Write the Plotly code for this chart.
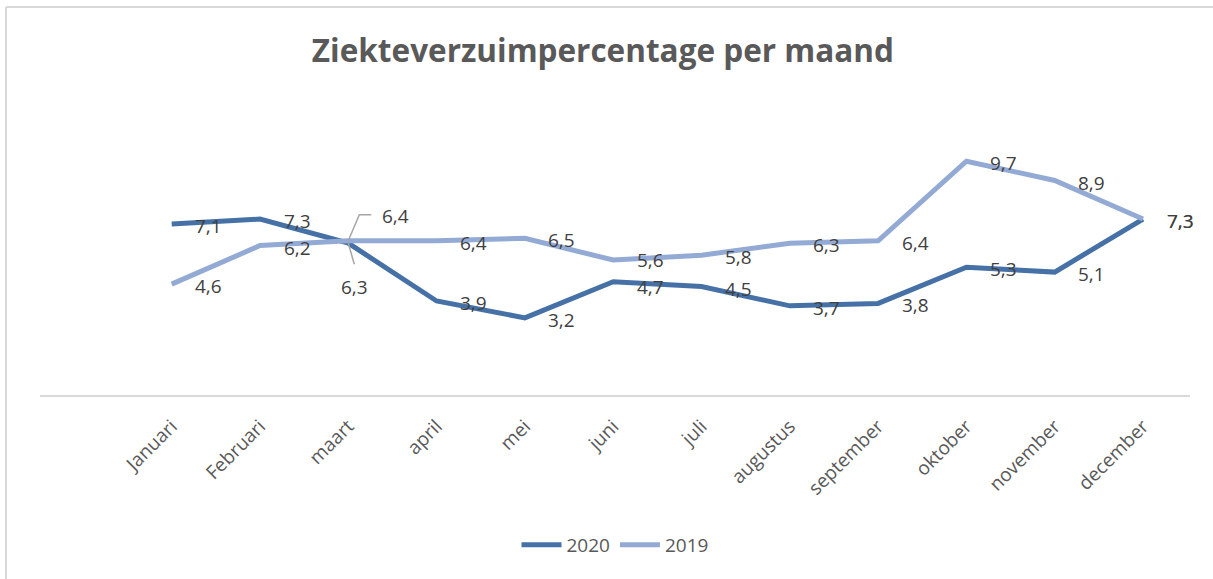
import plotly.graph_objects as go

months = ["Januari", "Februari", "maart", "april", "mei", "juni", "juli",
          "augustus", "september", "oktober", "november", "december"]
values_2020 = [7.1, 7.3, 6.3, 3.9, 3.2, 4.7, 4.5, 3.7, 3.8, 5.3, 5.1, 7.3]
values_2019 = [4.6, 6.2, 6.4, 6.4, 6.5, 5.6, 5.8, 6.3, 6.4, 9.7, 8.9, 7.3]

W, H = 1213, 579
C2020 = "#4671A6"
C2019 = "#93AAD5"
LABEL_C = "#404040"
AXIS_TXT = "#595959"
FONT = "Open Sans"

fig = go.Figure()
fig.add_trace(go.Scatter(x=list(range(len(months))), y=values_2020, name="2020",
                         mode="lines", line=dict(color=C2020, width=5)))
fig.add_trace(go.Scatter(x=list(range(len(months))), y=values_2019, name="2019",
                         mode="lines", line=dict(color=C2019, width=5)))

# data labels (default offset: right of point); special offsets for crossing in maart
default_off = (37, -2)
special = {("2019", 2): (47, 25), ("2020", 2): (6, -44),
           ("2019", 5): (37, 0), ("2020", 5): (37, -5)}
annotations = []
for name, vals in (("2020", values_2020), ("2019", values_2019)):
    for i, v in enumerate(vals):
        dx, dy = special.get((name, i), default_off)
        annotations.append(dict(x=i, y=v, xref="x", yref="y", showarrow=False,
                                text=f"{v:.1f}".replace(".", ","),
                                xshift=dx, yshift=dy,
                                font=dict(family=FONT, size=19, color=LABEL_C)))

# leader lines for maart labels (pixel offsets from the data point)
shapes = [
    dict(type="path", xref="x", yref="y", xsizemode="pixel", ysizemode="pixel",
         xanchor=2, yanchor=values_2019[2], path="M0,0 L11,26 L23,26",
         line=dict(color="#A6A6A6", width=1.5)),
    dict(type="path", xref="x", yref="y", xsizemode="pixel", ysizemode="pixel",
         xanchor=2, yanchor=values_2020[2], path="M0,0 L6,-21",
         line=dict(color="#A6A6A6", width=1.5)),
    # chart border (top and left)
    dict(type="line", xref="paper", yref="paper", x0=6 / W, x1=1, y0=1 - 7 / H, y1=1 - 7 / H,
         line=dict(color="#D9D9D9", width=2)),
    dict(type="line", xref="paper", yref="paper", x0=6 / W, x1=6 / W, y0=0, y1=1 - 7 / H,
         line=dict(color="#D9D9D9", width=2)),
]

x0_px, step = 171.7, 88.3
left_px, right_px = 40, 1190
y0_px, unit = 395, 24.1

fig.update_layout(
    width=W, height=H,
    margin=dict(l=0, r=0, t=0, b=0),
    paper_bgcolor="white", plot_bgcolor="white",
    title=dict(text="<b>Ziekteverzuimpercentage per maand</b>", x=0.497, xanchor="center",
               y=1 - 51 / H, yanchor="middle",
               font=dict(family=FONT, size=31.5, color="#595959")),
    xaxis=dict(
        domain=[left_px / W, right_px / W],
        range=[(left_px - x0_px) / step, (right_px - x0_px) / step],
        tickmode="array", tickvals=list(range(len(months))), ticktext=months,
        tickangle=-45, showgrid=False, zeroline=False,
        showline=True, linecolor="#D9D9D9", linewidth=1.5,
        ticks="", ticklabelstandoff=11,
        tickfont=dict(family=FONT, size=19, color=AXIS_TXT),
    ),
    yaxis=dict(
        domain=[(H - y0_px) / H, (H - (y0_px - 12 * unit)) / H],
        range=[0, 12], visible=False, showgrid=False, zeroline=False,
    ),
    legend=dict(orientation="h", x=0.507, xanchor="center", y=1 - 545 / H, yanchor="middle",
                font=dict(family=FONT, size=19, color=AXIS_TXT), itemwidth=40),
    showlegend=True,
    annotations=annotations,
    shapes=shapes,
)

fig.write_html("out.html", config={"displayModeBar": False},
               post_script="document.body.style.margin='0';document.body.style.overflow='hidden';")
